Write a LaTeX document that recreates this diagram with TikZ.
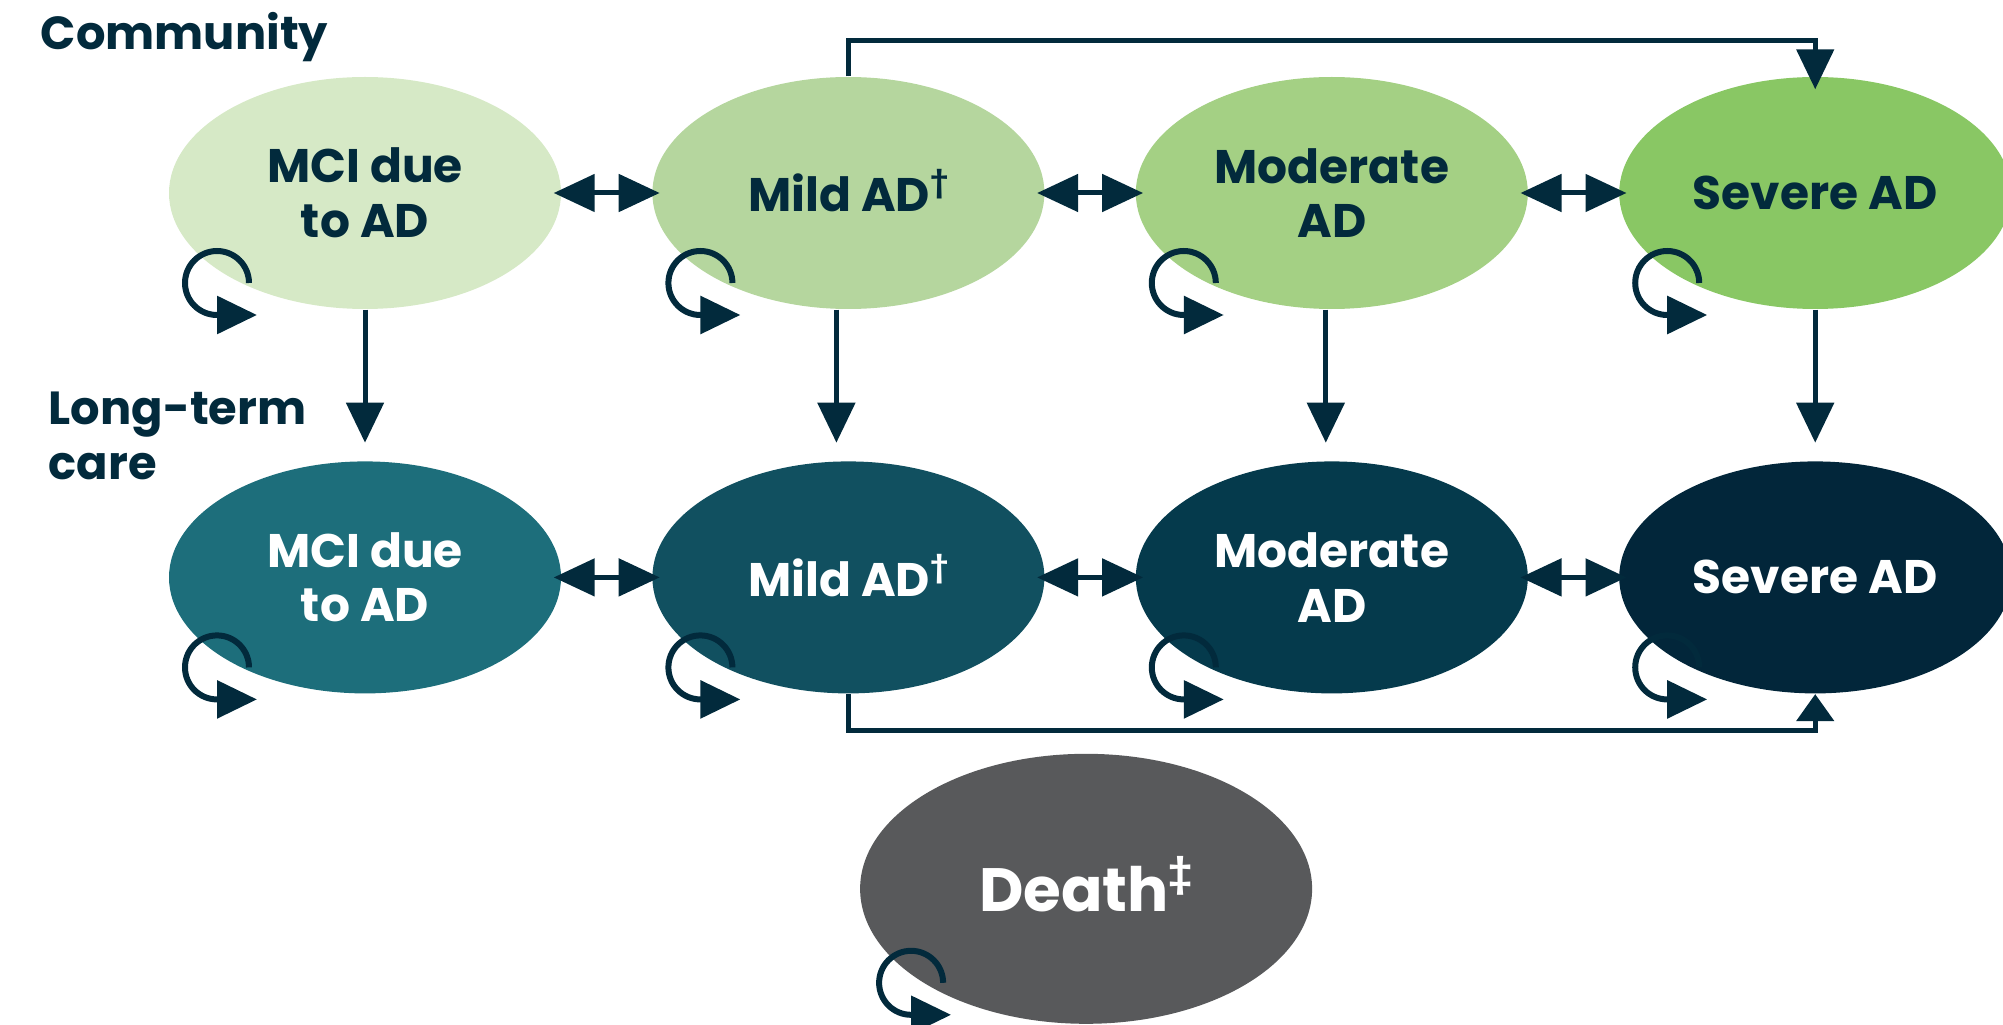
\documentclass[tikz,border=0pt]{standalone}
\usepackage{fontspec}
\setmainfont{Poppins}
\usepackage{tikz}
\usetikzlibrary{arrows.meta,calc,positioning,shapes.geometric}
\definecolor{adnavy}{RGB}{2,42,60}
\definecolor{commci}{RGB}{214,233,198}
\definecolor{commild}{RGB}{181,214,158}
\definecolor{commod}{RGB}{164,208,132}
\definecolor{comsev}{RGB}{137,199,100}
\definecolor{ltcmci}{RGB}{29,110,123}
\definecolor{ltcmild}{RGB}{17,80,96}
\definecolor{ltcmod}{RGB}{5,58,76}
\definecolor{ltcsev}{RGB}{2,38,58}
\definecolor{deathgray}{RGB}{88,89,91}
\newcommand{\fnmark}[1]{\raisebox{0.42em}[0pt][0pt]{\fontsize{8}{8}\selectfont #1}}

\begin{document}
\begin{tikzpicture}[
  node distance=1.51cm and 0.90cm,
  state/.style={ellipse, minimum width=3.92cm, minimum height=2.32cm,
    inner sep=0pt, align=center, text=adnavy,
    font=\fontsize{13.4}{15.5}\selectfont\bfseries},
  ltc/.style={state, text=white},
  death/.style={state, minimum width=4.52cm, minimum height=2.7cm,
    text=white, fill=deathgray, font=\fontsize{17.4}{20}\selectfont\bfseries},
  lab/.style={anchor=north west, inner sep=0pt, align=left, text=adnavy,
    font=\fontsize{13.2}{15.6}\selectfont\bfseries},
  arr/.style={-{Triangle[length=0.40cm,width=0.37cm]}, draw=adnavy, line width=0.05cm},
  dbl/.style={{Triangle[length=0.41cm,width=0.37cm]}-{Triangle[length=0.41cm,width=0.37cm]},
    draw=adnavy, line width=0.05cm, shorten <=-0.08cm, shorten >=-0.08cm},
  loopy/.style={arr, line width=0.06cm}
]
  \useasboundingbox (0,0) rectangle (20.03,10.24);

  % community
  \node[state, fill=commci] (mci) at (3.65,8.31) {MCI due\\to AD};
  \node[state, fill=commild, right=of mci] (mild) {Mild AD\fnmark{†}};
  \node[state, fill=commod, right=of mild] (mod) {Moderate\\AD};
  \node[state, fill=comsev, right=of mod] (sev) {Severe AD};

  % long-term care
  \node[ltc, fill=ltcmci, below=of mci] (mciL) {MCI due\\to AD};
  \node[ltc, fill=ltcmild, below=of mild] (mildL) {Mild AD\fnmark{†}};
  \node[ltc, fill=ltcmod, below=of mod] (modL) {Moderate\\AD};
  \node[ltc, fill=ltcsev, below=of sev] (sevL) {Severe AD};

  \coordinate (mid) at ($(mildL.south)!0.5!(modL.south)$);
  \node[death, below=0.59cm of mid, xshift=-0.04cm] (death) {Death\fnmark{\fontsize{10.5}{10.5}\selectfont ‡}};

  \node[lab, anchor=base west] (comm) at (0.40,9.74) {Community};
  \node[lab] (care) at (0.48,6.33) {Long-term\\care};

  % between stages
  \draw[dbl] (mci) -- (mild);
  \draw[dbl] (mild) -- (mod);
  \draw[dbl] (mod) -- (sev);
  \draw[dbl] (mciL) -- (mildL);
  \draw[dbl] (mildL) -- (modL);
  \draw[dbl] (modL) -- (sevL);

  % into care
  \draw[arr, shorten >=0.18cm] (mci.south) -- (mciL.north);
  \draw[arr, shorten >=0.18cm] ([xshift=-0.12cm]mild.south) -- ([xshift=-0.12cm]mildL.north);
  \draw[arr, shorten >=0.18cm] ([xshift=-0.06cm]mod.south) -- ([xshift=-0.06cm]modL.north);
  \draw[arr, shorten >=0.18cm] (sev.south) -- (sevL.north);

  % mild to severe
  \draw[arr, shorten >=-0.13cm] (mild.north) -- ++(0,0.36) -| (sev.north);
  \draw[arr, -{Triangle[length=0.27cm,width=0.37cm]}] (mildL.south) -- ++(0,-0.36) -| (sevL.south);

  % stay
  \foreach \s in {mci,mild,mod,sev,mciL,mildL,modL,sevL}
    \draw[loopy] ([shift={(-1.16,-0.90)}]\s.center)
      arc[start angle=0, end angle=270, radius=0.32] -- ++(0.40,0);
  \draw[loopy] ([shift={(-1.43,-0.94)}]death.center)
    arc[start angle=0, end angle=270, radius=0.32] -- ++(0.40,0);
\end{tikzpicture}
\end{document}
